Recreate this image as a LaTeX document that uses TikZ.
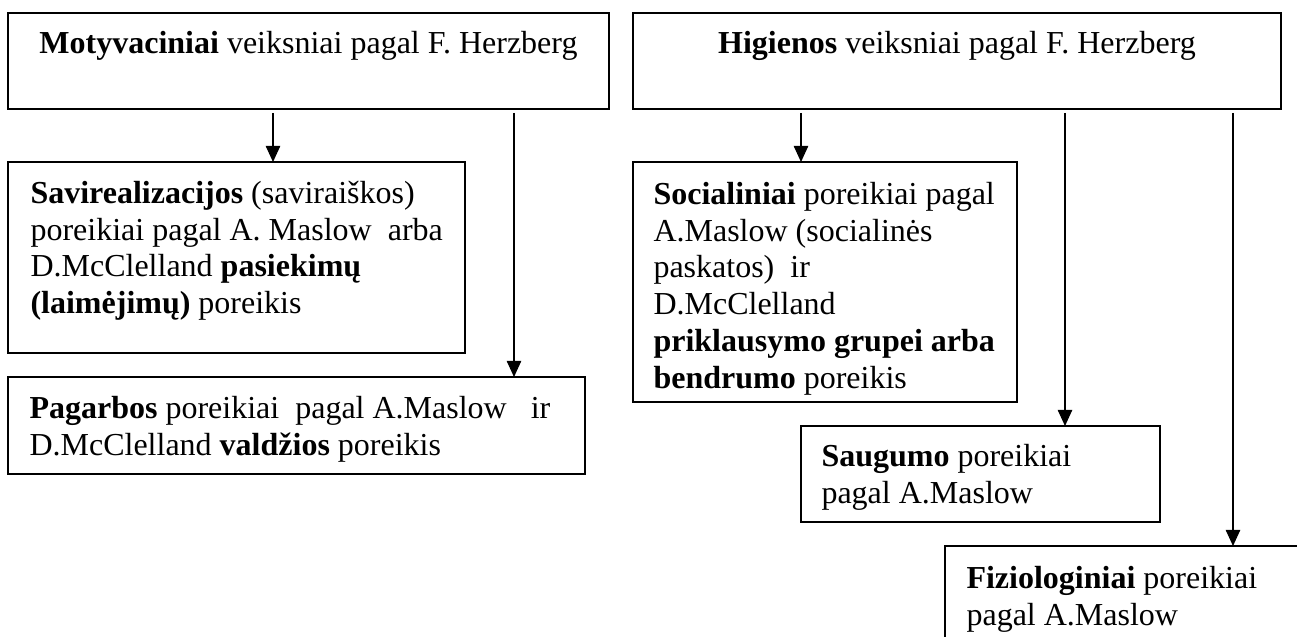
\documentclass[tikz,border=0pt]{standalone}
\usepackage{fontspec}
\setmainfont{Liberation Serif}
\usetikzlibrary{arrows.meta}
\newlength\px
\setlength\px{0.375pt}

\tikzset{
  box/.style={draw, line width=0.55pt, anchor=north west, inner sep=0pt, outer sep=0pt},
  txt/.style={anchor=north west, inner sep=0pt, align=left, font=\fontsize{12}{13.8}\selectfont},
  head/.style={txt, anchor=north, align=center},
  arr/.style={-{Triangle[length=6pt,width=5.4pt]}, line width=0.4pt}
}

\begin{document}
\begin{tikzpicture}[x=\px, y=-\px]
\useasboundingbox (0,0) rectangle (1297,637);
\clip (0,0) rectangle (1297,637);
% Draw boxes
\node[box, minimum width=601*\px, minimum height=96*\px] (motyv) at (8,13) {};
\node[box, minimum width=648*\px, minimum height=96*\px] (higien) at (633,13) {};
\node[box, minimum width=457*\px, minimum height=191*\px] (savi) at (8,162) {};
\node[box, minimum width=577*\px, minimum height=97*\px] (pagarb) at (8,377) {};
\node[box, minimum width=384*\px, minimum height=240*\px] (social) at (633,162) {};
\node[box, minimum width=359*\px, minimum height=96*\px] (saugum) at (801,426) {};
\node[box, minimum width=380*\px, minimum height=120*\px] (fizio) at (945,546) {};
% Draw texts
\node[head] (motyv-t) at ([shift={(0,14)}]motyv.north) {\strut\textbf{Motyvaciniai} veiksniai pagal F. Herzberg};
\node[head] (higien-t) at ([shift={(0,14)}]higien.north) {\strut\textbf{Higienos} veiksniai pagal F. Herzberg};
\node[txt] (savi-t) at ([shift={(22,15)}]savi.north west) {\strut\textbf{Savirealizacijos} (saviraiškos)\\
  poreikiai pagal A. Maslow\ \ arba\\
  D.McClelland \textbf{pasiekimų}\\
  \textbf{(laimėjimų)} poreikis};
\node[txt] (pagarb-t) at ([shift={(21,15)}]pagarb.north west) {\strut\textbf{Pagarbos} poreikiai\ \ pagal A.Maslow\ \ \ ir\\
  D.McClelland \textbf{valdžios} poreikis};
\node[txt] (social-t) at ([shift={(20,16)}]social.north west) {\strut\textbf{Socialiniai} poreikiai pagal\\
  A.Maslow (socialinės\\
  paskatos)\ \ ir\\
  D.McClelland\\
  \textbf{priklausymo grupei arba}\\
  \textbf{bendrumo} poreikis};
\node[txt] (saugum-t) at ([shift={(20,14)}]saugum.north west) {\strut\textbf{Saugumo} poreikiai\\
  pagal A.Maslow};
\node[txt] (fizio-t) at ([shift={(21,16)}]fizio.north west) {\strut\textbf{Fiziologiniai} poreikiai\\
  pagal A.Maslow};
% Draw arrows
\draw[arr] ([yshift=-1.5pt]motyv.south -| 273,0) -- (savi.north -| 273,0);
\draw[arr] ([yshift=-1.5pt]motyv.south -| 514,0) -- (pagarb.north -| 514,0);
\draw[arr] ([yshift=-1.5pt]higien.south -| 801,0) -- (social.north -| 801,0);
\draw[arr] ([yshift=-1.5pt]higien.south -| 1065,0) -- (saugum.north -| 1065,0);
\draw[arr] ([yshift=-1.5pt]higien.south -| 1233,0) -- (fizio.north -| 1233,0);
\end{tikzpicture}
\end{document}
